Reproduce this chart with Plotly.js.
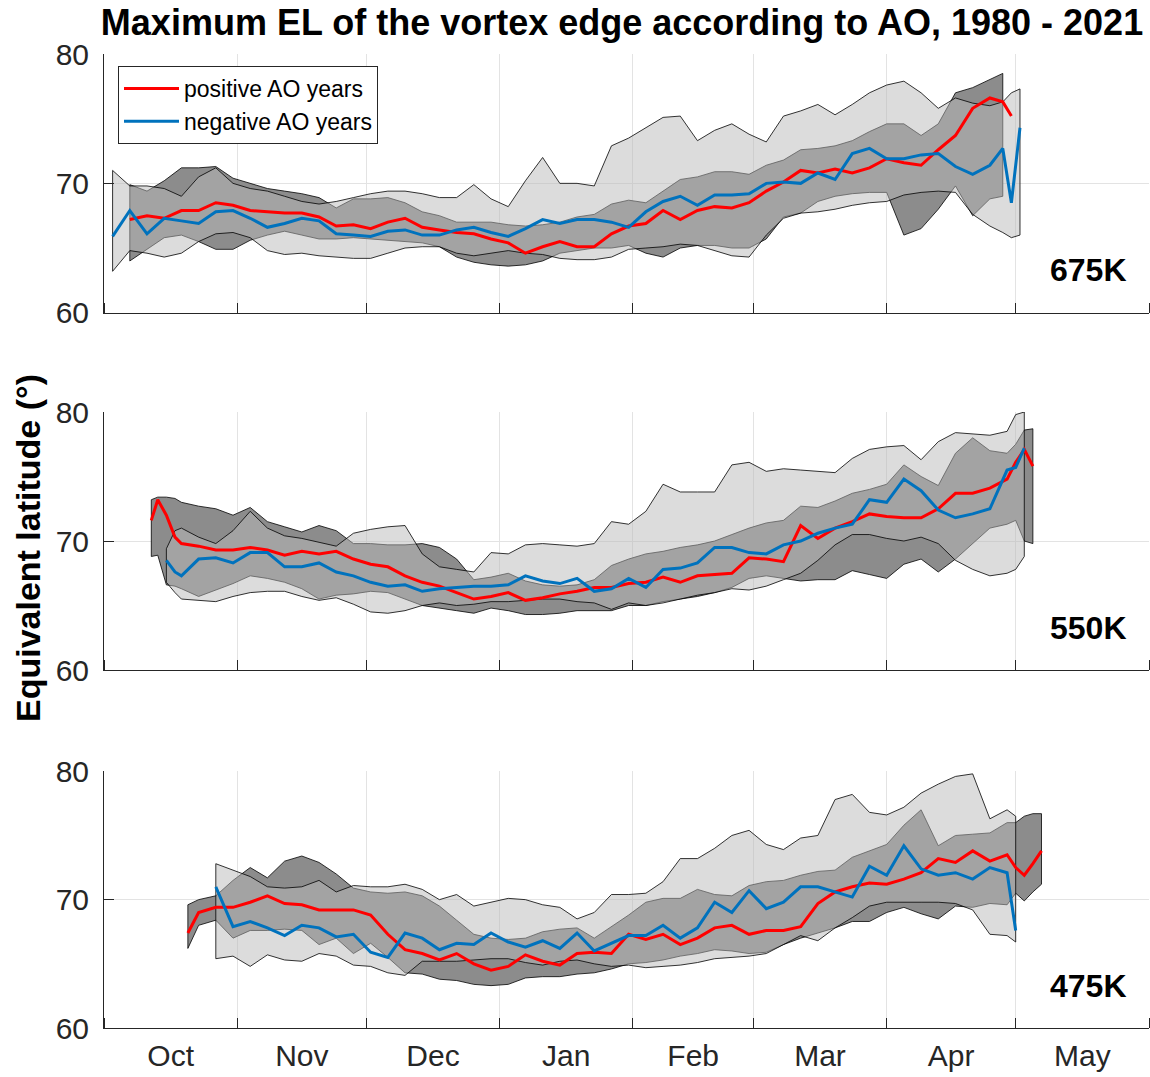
<!DOCTYPE html>
<html>
<head>
<meta charset="utf-8">
<script src="https://cdn.plot.ly/plotly-3.0.1.min.js"></script>
<style>html,body{margin:0;padding:0;background:#fff;}#chart{width:1150px;height:1077px;}</style>
</head>
<body>
<div id="chart"></div>
<script>
// ---- data: days since 1 October, values in degrees of equivalent latitude ----
const days675 = [2,6,10,14,18,22,26,30,34,38, 42,46,50,54,58,62,66,70,74,78, 82,86,90,94,98,102,106,110,114,118, 122,126,130,134,138,142,146,150,154,158, 162,166,170,174,178,182,186,190,194,198, 202,206,209,211,213];
const red675 = [null,67.2,67.5,67.3,67.9,67.9,68.5,68.3,67.9,67.8, 67.7,67.7,67.4,66.7,66.8,66.5,67.0,67.3,66.6,66.4, 66.2,66.1,65.7,65.4,64.6,65.1,65.5,65.1,65.1,66.1, 66.7,66.9,67.9,67.2,67.9,68.2,68.1,68.5,69.4,70.1, 71.0,70.8,71.1,70.8,71.2,71.9,71.6,71.4,72.6,73.7, 75.8,76.6,76.3,75.2,null];
const blue675 = [65.9,67.9,66.1,67.3,67.1,66.9,67.8,67.9,67.3,66.6, 66.9,67.3,67.1,66.1,66.0,65.9,66.3,66.4,66.0,66.0, 66.4,66.6,66.2,65.9,66.5,67.2,66.9,67.2,67.2,67.0, 66.6,67.8,68.6,69.0,68.3,69.1,69.1,69.2,70.0,70.1, 70.0,70.8,70.3,72.3,72.7,71.9,71.9,72.2,72.3,71.3, 70.7,71.4,72.7,68.5,74.3];
const posHi675 = [null,69.9,69.4,70.2,71.2,71.2,71.3,70.4,70.0,69.6, 69.4,69.2,68.9,68.1,68.8,68.8,68.9,68.5,67.8,67.5, 67.0,67.0,67.0,66.8,66.7,66.8,67.0,67.4,67.6,68.4, 68.7,68.5,69.4,70.3,70.5,70.9,70.9,70.7,71.4,71.8, 72.6,72.7,72.9,73.3,74.0,74.6,74.6,73.7,74.6,77.0, 77.4,78.0,78.5,null,null];
const posLo675 = [null,64.0,64.9,65.8,66.0,65.5,64.9,64.9,65.6,66.0, 66.3,66.0,65.7,65.7,65.8,65.7,65.6,65.5,65.4,65.1, 64.3,63.9,63.7,63.6,63.7,64.0,64.6,64.8,65.0,65.0, 65.2,64.6,64.3,65.0,65.2,65.2,65.0,65.0,65.7,67.4, 67.7,68.6,69.0,69.2,69.3,69.3,66.0,66.5,68.0,69.8, 67.5,68.8,69.0,null,null];
const negHi675 = [71.0,69.8,69.8,69.6,69.0,70.5,71.2,70.0,69.6,69.4, 69.0,68.6,68.4,68.6,68.9,69.2,69.4,69.4,69.2,68.9, 68.9,69.9,68.8,68.2,70.2,72.0,70.0,70.0,69.8,72.9, 73.5,74.3,75.1,75.2,73.3,74.1,74.6,73.8,73.2,75.2, 75.6,76.1,75.3,76.1,77.0,77.6,77.9,77.0,75.8,76.6, 76.2,76.0,76.3,77.0,77.3];
const negLo675 = [63.2,64.8,64.6,64.3,64.6,65.5,66.1,66.2,65.8,64.8, 64.5,64.6,64.4,64.3,64.2,64.2,64.6,65.0,65.1,65.1, 64.6,64.4,64.6,64.8,64.6,64.5,64.2,64.1,64.1,64.3, 64.9,65.0,65.1,65.3,65.2,64.8,64.4,64.3,66.0,67.3, 67.7,67.8,68.0,68.3,68.5,68.6,69.1,69.3,69.4,69.3, 67.6,66.7,66.2,65.8,66.0];

const days550 = [11,12.5,14.5,16.5,18,22,26,30,34,38, 42,46,50,54,58,62,66,70,74,78, 82,86,90,94,98,102,106,110,114,118, 122,126,130,134,138,142,146,150,154,158, 162,166,170,174,178,182,186,190,194,198, 202,206,210,212,214,216];
const red550 = [71.6,73.2,72.0,70.3,69.8,69.6,69.3,69.3,69.5,69.3, 68.9,69.2,69.0,69.2,68.6,68.2,68.0,67.3,66.8,66.5, 66.0,65.5,65.7,66.0,65.4,65.6,65.9,66.1,66.4,66.4, 66.7,66.8,67.2,66.8,67.3,67.4,67.5,68.7,68.6,68.4, 71.2,70.2,71.0,71.5,72.1,71.9,71.8,71.8,72.5,73.7, 73.7,74.1,74.8,76.1,77.1,75.8];
const blue550 = [null,null,68.5,67.6,67.3,68.6,68.7,68.3,69.1,69.1, 68.0,68.0,68.3,67.6,67.3,66.8,66.5,66.6,66.1,66.3, 66.4,66.5,66.5,66.6,67.3,66.9,66.7,67.1,66.1,66.3, 67.1,66.4,67.8,67.9,68.3,69.5,69.5,69.1,69.0,69.7, 70.0,70.6,71.0,71.3,73.2,73.0,74.8,73.9,72.4,71.8, 72.1,72.5,75.5,75.7,77.2,null];
const posHi550 = [73.2,73.4,73.4,73.3,73.0,72.7,72.5,72.0,72.6,71.5, 71.1,70.7,71.2,70.8,69.8,69.8,69.7,69.7,69.8,69.5, 68.6,67.0,67.2,67.5,66.9,66.6,66.5,66.6,67.0,68.1, 68.6,69.0,69.2,69.5,69.7,70.0,70.5,71.0,71.4,71.6, 72.7,72.6,73.1,73.7,74.0,74.4,75.9,75.0,74.3,76.8, 78.0,77.0,76.8,77.5,78.6,78.7];
const posLo550 = [68.8,68.9,66.6,66.5,66.3,65.7,66.2,66.7,67.3,67.1, 66.8,66.3,65.5,65.8,65.9,66.1,66.0,65.5,65.0,64.8, 64.6,64.4,64.8,64.6,64.3,64.3,64.4,64.6,64.6,64.6, 65.0,65.0,65.3,65.5,65.7,66.0,66.4,67.1,67.3,67.1, 66.9,67.0,67.0,67.7,67.4,67.1,68.2,68.6,67.6,68.6, 69.8,71.0,71.3,71.6,70.0,69.8];
const negHi550 = [null,null,69.4,70.8,71.0,70.3,69.8,70.8,72.3,71.0, 70.4,70.2,69.9,69.6,70.6,70.9,71.1,71.2,69.0,68.0, 67.8,67.6,69.1,69.0,69.7,69.8,69.7,69.6,69.8,71.5, 71.3,72.3,74.4,73.8,73.8,73.8,75.9,76.1,75.4,75.6, 75.5,75.4,75.3,76.4,77.1,77.3,77.4,76.3,77.7,78.4, 78.3,78.2,78.5,79.8,80.0,null];
const negLo550 = [null,null,66.8,66.0,65.5,65.4,65.3,65.7,66.0,66.1, 66.1,65.7,65.4,65.6,65.1,64.5,64.4,64.6,65.0,65.2, 65.0,65.1,65.3,65.3,65.4,65.5,65.5,65.3,65.2,64.7, 65.2,65.0,65.2,65.5,65.8,66.0,66.3,66.2,66.5,67.0, 67.5,68.5,69.7,70.5,70.5,70.2,70.0,70.3,69.8,68.5, 67.8,67.3,67.5,67.8,68.8,null];

const days475 = [19.5,22,26,30,34,38,42,46,50,54, 58,62,66,70,74,78,82,86,90,94, 98,102,106,110,114,118,122,126,130,134, 138,142,146,150,154,158,162,166,170,174, 178,182,186,190,194,198,202,206,210,212, 214,216,218];
const red475 = [67.4,69.0,69.4,69.4,69.8,70.3,69.7,69.6,69.2,69.2, 69.2,68.8,67.3,66.1,65.8,65.3,65.8,65.0,64.5,64.8, 65.7,65.2,64.9,65.8,65.9,65.8,67.3,66.9,67.3,66.5, 67.0,67.8,68.0,67.3,67.6,67.6,67.9,69.7,70.6,71.0, 71.3,71.2,71.6,72.1,73.2,72.9,73.8,73.0,73.5,72.5, 71.9,72.8,73.8];
const blue475 = [null,null,71.0,67.9,68.3,67.8,67.2,68.0,67.8,67.1, 67.3,65.9,65.5,67.4,67.0,66.1,66.6,66.5,67.4,66.7, 66.3,66.8,66.2,67.4,66.0,66.6,67.2,67.2,68.0,67.0, 67.8,69.8,69.0,70.7,69.3,69.8,71.0,71.0,70.6,70.2, 72.6,71.9,74.2,72.4,71.9,72.1,71.6,72.5,72.1,67.6, null,null,null];
const posHi475 = [69.6,70.0,70.3,71.5,72.5,71.7,73.0,73.4,72.9,72.0, 70.9,70.6,70.5,70.6,70.3,69.5,68.4,67.3,67.0,66.9, 67.0,67.5,67.7,67.8,67.0,67.9,68.8,69.8,70.1,70.1, 70.8,70.4,70.3,71.1,71.4,71.5,71.9,72.2,72.3,73.3, 73.8,74.3,75.8,77.0,74.2,75.0,75.1,75.2,76.0,76.0, 76.5,76.7,76.7];
const posLo475 = [66.2,68.0,68.4,67.0,67.6,67.6,67.7,67.6,66.5,67.0, 65.8,66.6,65.5,64.3,64.2,63.8,63.7,63.4,63.3,63.4, 63.9,64.0,64.0,64.2,64.3,64.6,65.0,65.1,65.3,65.6, 65.8,66.1,66.0,65.8,65.9,66.5,67.0,67.4,67.8,68.3, 68.3,69.0,69.4,68.9,68.5,69.5,69.4,69.7,69.6,70.5, 69.9,70.6,71.2];
const negHi475 = [null,null,72.8,72.3,71.8,71.0,70.9,71.0,71.5,70.6, 71.1,71.0,71.0,71.2,70.8,70.0,70.4,69.5,69.8,70.1, 70.0,69.6,69.4,68.5,69.0,70.4,70.4,70.5,71.4,73.2, 73.2,74.0,75.0,75.4,74.3,73.9,74.8,75.0,77.8,78.2, 76.8,76.6,77.2,78.3,79.0,79.6,79.8,76.3,77.0,76.5, null,null,null];
const negLo475 = [null,null,65.4,65.6,64.8,65.7,65.3,65.2,65.8,65.6, 64.9,64.8,64.3,64.1,65.2,65.2,65.2,65.3,65.4,65.4, 65.1,64.9,65.2,65.3,65.0,64.8,64.9,64.7,64.8,64.9, 65.1,65.4,65.5,65.6,65.8,66.5,67.2,66.8,67.8,68.6, 69.5,69.8,69.8,69.8,69.8,69.7,69.2,67.3,67.2,66.7, null,null,null];

const panelNames = ['675K', '550K', '475K'];
const seriesNames = ['positive AO years', 'negative AO years'];

// ---- build ----
const BASE = Date.UTC(2020, 9, 1);
const toX = d => BASE + d * 86400000;
const FONT = 'Liberation Sans, Arial, Helvetica, sans-serif';

function bandTrace(days, hi, lo, xa, ya, fillcolor) {
  const xs = [], up = [], dn = [];
  days.forEach((d, i) => {
    if (hi[i] !== null && lo[i] !== null) { xs.push(toX(d)); up.push(hi[i]); dn.push(lo[i]); }
  });
  const px = xs.concat(xs.slice().reverse(), [xs[0]]);
  const py = up.concat(dn.slice().reverse(), [up[0]]);
  return {x: px, y: py, xaxis: xa, yaxis: ya, type: 'scatter', mode: 'lines', fill: 'toself',
          fillcolor: fillcolor, line: {color: '#000', width: 0.8}, showlegend: false, hoverinfo: 'skip'};
}
function lineTrace(days, vals, xa, ya, color, name, showlegend) {
  const xs = [], ys = [];
  days.forEach((d, i) => { if (vals[i] !== null) { xs.push(toX(d)); ys.push(vals[i]); } });
  return {x: xs, y: ys, xaxis: xa, yaxis: ya, type: 'scatter', mode: 'lines', name: name,
          line: {color: color, width: 3}, showlegend: showlegend, legendgroup: name};
}

const panels = [
  {days: days675, red: red675, blue: blue675, pH: posHi675, pL: posLo675, nH: negHi675, nL: negLo675},
  {days: days550, red: red550, blue: blue550, pH: posHi550, pL: posLo550, nH: negHi550, nL: negLo550},
  {days: days475, red: red475, blue: blue475, pH: posHi475, pL: posLo475, nH: negHi475, nL: negLo475}
];
const DARK = 'rgb(140,140,140)';
const LIGHT = 'rgba(186,186,186,0.5)';
const traces = [];
panels.forEach((p, k) => {
  const xa = k === 0 ? 'x' : 'x' + (k + 1);
  const ya = k === 0 ? 'y' : 'y' + (k + 1);
  traces.push(bandTrace(p.days, p.pH, p.pL, xa, ya, DARK));
  traces.push(bandTrace(p.days, p.nH, p.nL, xa, ya, LIGHT));
  traces.push(lineTrace(p.days, p.red, xa, ya, '#ff0000', seriesNames[0], k === 0));
  traces.push(lineTrace(p.days, p.blue, xa, ya, '#0072bd', seriesNames[1], k === 0));
});

const H = 1077, T = 54, B = 49;
const plotH = H - T - B;
const pix = y => (H - B - y) / plotH; // pixel row -> paper fraction
const domains = [[pix(312.7), 1], [pix(670), pix(412)], [0, pix(771.3)]];

const AX = '#262626', GRID = '#e3e3e3';
function xAxis(k) {
  return {
    type: 'date', range: [toX(0), Date.UTC(2021, 5, 1)], anchor: k === 0 ? 'y' : 'y' + (k + 1),
    tick0: toX(0), dtick: 'M1', ticks: 'inside', ticklen: 10, tickcolor: AX, tickwidth: 1,
    showline: true, linecolor: AX, linewidth: 1, showgrid: true, gridcolor: GRID, gridwidth: 1,
    zeroline: false, showticklabels: k === 2, tickformat: '%b', ticklabelmode: 'period',
    ticklabelstandoff: 1, tickfont: {size: 30, color: AX, family: FONT}, fixedrange: true
  };
}
function yAxis(k) {
  return {
    domain: domains[k], range: [60, 80], anchor: k === 0 ? 'x' : 'x' + (k + 1),
    tickvals: [60, 70, 80], ticks: 'inside', ticklen: 10, tickcolor: AX, tickwidth: 1,
    showline: true, linecolor: AX, linewidth: 1, showgrid: true, gridcolor: GRID, gridwidth: 1,
    zeroline: false, ticklabelstandoff: 8, tickfont: {size: 30, color: AX, family: FONT}, fixedrange: true
  };
}

const annotations = [
  {text: '<b>Equivalent latitude (°)</b>', xref: 'paper', yref: 'paper', x: (28 - 104) / 1045, y: pix(548),
   xanchor: 'center', yanchor: 'middle', textangle: -90, showarrow: false, font: {size: 34, color: '#000', family: FONT}}
];
const labelRows = [270, 628, 986];
panelNames.forEach((n, k) => {
  annotations.push({text: '<b>' + n + '</b>', xref: 'paper', yref: 'paper', x: (1129 - 104) / 1045, y: pix(labelRows[k]),
    xanchor: 'right', yanchor: 'middle', showarrow: false, font: {size: 32, color: '#000', family: FONT}});
});

const layout = {
  width: 1150, height: 1077,
  margin: {l: 104, r: 1, t: T, b: B},
  paper_bgcolor: '#fff', plot_bgcolor: '#fff',
  font: {family: FONT, color: AX},
  title: {text: '<b>Maximum EL of the vortex edge according to AO, 1980 - 2021</b>',
          font: {size: 36, color: '#000', family: FONT}, xref: 'container', x: 622 / 1150, xanchor: 'center',
          yref: 'container', y: 1 - 22 / 1077, yanchor: 'middle'},
  xaxis: xAxis(0), xaxis2: xAxis(1), xaxis3: xAxis(2),
  yaxis: yAxis(0), yaxis2: yAxis(1), yaxis3: yAxis(2),
  showlegend: true,
  legend: {x: (118 - 104) / 1045, y: pix(66), xanchor: 'left', yanchor: 'top', xref: 'paper', yref: 'paper',
           bgcolor: '#fff', bordercolor: AX, borderwidth: 1, font: {size: 23, color: '#000', family: FONT},
           itemwidth: 55, tracegroupgap: 0},
  annotations: annotations
};

Plotly.newPlot('chart', traces, layout, {staticPlot: true, displayModeBar: false});
</script>
</body>
</html>
